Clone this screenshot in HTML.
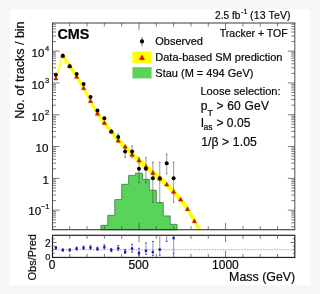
<!DOCTYPE html><html><head><meta charset="utf-8"><style>html,body{margin:0;padding:0;background:#f6f6f6;}svg{display:block;will-change:transform;}text{stroke:#222;stroke-width:0.22px;}</style></head><body><svg width="320" height="294" viewBox="0 0 320 294"><rect x="0" y="0" width="320" height="294" fill="#f6f6f6"/>
<rect x="9.8" y="9.3" width="300.3" height="275.8" fill="#ffffff"/>
<path d="M100.90,229.70 L100.90,225.30 L107.82,225.30 L107.82,215.30 L114.75,215.30 L114.75,199.60 L121.68,199.60 L121.68,184.30 L128.61,184.30 L128.61,175.40 L135.54,175.40 L135.54,173.20 L142.46,173.20 L142.46,179.30 L149.39,179.30 L149.39,190.20 L156.32,190.20 L156.32,202.60 L163.25,202.60 L163.25,215.90 L170.18,215.90 L170.18,224.30 L177.10,224.30 L177.10,229.70 Z" fill="#5ad35a" stroke="#2a6a3a" stroke-width="0.7"/>
<clipPath id="cm"><rect x="52.50" y="23.00" width="242.30" height="206.70"/></clipPath>
<polygon clip-path="url(#cm)" fill="#ffff00" stroke-linejoin="round" points="55.86,75.20 62.79,52.60 69.72,63.00 76.65,73.60 83.58,84.90 90.50,97.90 97.43,110.40 104.36,119.70 111.29,128.40 118.22,137.50 125.14,143.57 132.07,151.43 139.00,157.19 145.93,163.44 152.86,169.60 159.78,175.36 166.71,181.02 173.64,188.28 180.57,195.94 187.50,205.50 194.42,217.55 201.35,230.01 201.35,236.99 194.42,224.45 187.50,212.30 180.57,202.66 173.64,194.92 166.71,187.58 159.78,181.84 152.86,176.00 145.93,169.76 139.00,163.41 132.07,157.57 125.14,149.63 118.22,143.50 111.29,134.40 104.36,125.70 97.43,116.40 90.50,103.90 83.58,90.90 76.65,79.60 69.72,69.00 62.79,58.60 55.86,81.20"/>
<path d="M55.86,76.07 L58.01,79.94 L53.71,79.94 Z" fill="#d81000" stroke="#902000" stroke-width="0.45"/>
<path d="M62.79,53.47 L64.94,57.34 L60.64,57.34 Z" fill="#d81000" stroke="#902000" stroke-width="0.45"/>
<path d="M69.72,63.87 L71.87,67.74 L67.57,67.74 Z" fill="#d81000" stroke="#902000" stroke-width="0.45"/>
<path d="M76.65,74.47 L78.80,78.34 L74.50,78.34 Z" fill="#d81000" stroke="#902000" stroke-width="0.45"/>
<path d="M83.58,85.77 L85.73,89.64 L81.43,89.64 Z" fill="#d81000" stroke="#902000" stroke-width="0.45"/>
<path d="M90.50,98.77 L92.65,102.64 L88.35,102.64 Z" fill="#d81000" stroke="#902000" stroke-width="0.45"/>
<path d="M97.43,111.27 L99.58,115.14 L95.28,115.14 Z" fill="#d81000" stroke="#902000" stroke-width="0.45"/>
<path d="M104.36,120.57 L106.51,124.44 L102.21,124.44 Z" fill="#d81000" stroke="#902000" stroke-width="0.45"/>
<path d="M111.29,129.27 L113.44,133.14 L109.14,133.14 Z" fill="#d81000" stroke="#902000" stroke-width="0.45"/>
<path d="M118.22,138.37 L120.37,142.24 L116.07,142.24 Z" fill="#d81000" stroke="#902000" stroke-width="0.45"/>
<path d="M125.14,144.47 L127.29,148.34 L122.99,148.34 Z" fill="#d81000" stroke="#902000" stroke-width="0.45"/>
<path d="M132.07,152.37 L134.22,156.24 L129.92,156.24 Z" fill="#d81000" stroke="#902000" stroke-width="0.45"/>
<path d="M139.00,158.17 L141.15,162.04 L136.85,162.04 Z" fill="#d81000" stroke="#902000" stroke-width="0.45"/>
<path d="M145.93,164.47 L148.08,168.34 L143.78,168.34 Z" fill="#d81000" stroke="#902000" stroke-width="0.45"/>
<path d="M152.86,170.67 L155.01,174.54 L150.71,174.54 Z" fill="#d81000" stroke="#902000" stroke-width="0.45"/>
<path d="M159.78,176.47 L161.93,180.34 L157.63,180.34 Z" fill="#d81000" stroke="#902000" stroke-width="0.45"/>
<path d="M166.71,182.17 L168.86,186.04 L164.56,186.04 Z" fill="#d81000" stroke="#902000" stroke-width="0.45"/>
<path d="M173.64,189.47 L175.79,193.34 L171.49,193.34 Z" fill="#d81000" stroke="#902000" stroke-width="0.45"/>
<path d="M180.57,197.17 L182.72,201.04 L178.42,201.04 Z" fill="#d81000" stroke="#902000" stroke-width="0.45"/>
<path d="M187.50,206.77 L189.65,210.64 L185.35,210.64 Z" fill="#d81000" stroke="#902000" stroke-width="0.45"/>
<path d="M194.42,218.87 L196.57,222.74 L192.27,222.74 Z" fill="#d81000" stroke="#902000" stroke-width="0.45"/>
<circle cx="55.86" cy="74.70" r="2.0" fill="#000"/>
<circle cx="62.79" cy="55.80" r="2.0" fill="#000"/>
<circle cx="69.72" cy="66.30" r="2.0" fill="#000"/>
<circle cx="76.65" cy="74.00" r="2.0" fill="#000"/>
<circle cx="83.58" cy="84.10" r="2.0" fill="#000"/>
<circle cx="90.50" cy="97.00" r="2.0" fill="#000"/>
<circle cx="97.43" cy="110.40" r="2.0" fill="#000"/>
<circle cx="104.36" cy="118.20" r="2.0" fill="#000"/>
<circle cx="111.29" cy="131.60" r="2.0" fill="#000"/>
<path d="M118.22,133.60V140.44M117.32,134.00h1.8M117.32,140.04h1.8" stroke="#444" stroke-width="0.55" fill="none"/>
<circle cx="118.22" cy="136.98" r="2.0" fill="#000"/>
<path d="M125.14,145.53V157.83M124.24,145.93h1.8M124.24,157.43h1.8" stroke="#444" stroke-width="0.55" fill="none"/>
<circle cx="125.14" cy="151.48" r="2.0" fill="#000"/>
<path d="M132.07,145.53V157.83M131.17,145.93h1.8M131.17,157.43h1.8" stroke="#444" stroke-width="0.55" fill="none"/>
<circle cx="132.07" cy="151.48" r="2.0" fill="#000"/>
<path d="M139.00,157.16V183.12M138.10,157.56h1.8M138.10,182.72h1.8" stroke="#444" stroke-width="0.55" fill="none"/>
<circle cx="139.00" cy="168.78" r="2.0" fill="#000"/>
<path d="M145.93,157.16V183.12M145.03,157.56h1.8M145.03,182.72h1.8" stroke="#444" stroke-width="0.55" fill="none"/>
<circle cx="145.93" cy="168.78" r="2.0" fill="#000"/>
<path d="M152.86,161.86V202.60M151.96,162.26h1.8M151.96,202.20h1.8" stroke="#444" stroke-width="0.55" fill="none"/>
<circle cx="152.86" cy="178.35" r="2.0" fill="#000"/>
<path d="M159.78,161.86V202.60M158.88,162.26h1.8M158.88,202.20h1.8" stroke="#444" stroke-width="0.55" fill="none"/>
<circle cx="159.78" cy="178.35" r="2.0" fill="#000"/>
<path d="M166.71,153.79V174.03M165.81,154.19h1.8M165.81,173.63h1.8" stroke="#444" stroke-width="0.55" fill="none"/>
<circle cx="166.71" cy="163.18" r="2.0" fill="#000"/>
<path d="M173.64,161.86V202.60M172.74,162.26h1.8M172.74,202.20h1.8" stroke="#444" stroke-width="0.55" fill="none"/>
<circle cx="173.64" cy="178.35" r="2.0" fill="#000"/>
<path d="M52.5,23.0V229.7M294.8,23.0V229.7" fill="none" stroke="#4a4a4a" stroke-width="1.0"/>
<path d="M52.0,23.0H295.3" fill="none" stroke="#3a3a3a" stroke-width="1.0"/>
<path d="M52.0,229.7H295.3" fill="none" stroke="#222" stroke-width="1.1"/>
<rect x="52.5" y="235.3" width="242.30" height="22.15" fill="none" stroke="#222" stroke-width="1.2"/>
<path d="M52.50,226.78h3.5M294.80,226.78h-3.5M52.50,222.80h3.5M294.80,222.80h-3.5M52.50,219.72h3.5M294.80,219.72h-3.5M52.50,217.20h3.5M294.80,217.20h-3.5M52.50,215.08h3.5M294.80,215.08h-3.5M52.50,213.23h3.5M294.80,213.23h-3.5M52.50,211.61h3.5M294.80,211.61h-3.5M52.50,210.15h7.0M294.80,210.15h-7.0M52.50,200.58h3.5M294.80,200.58h-3.5M52.50,194.98h3.5M294.80,194.98h-3.5M52.50,191.00h3.5M294.80,191.00h-3.5M52.50,187.92h3.5M294.80,187.92h-3.5M52.50,185.40h3.5M294.80,185.40h-3.5M52.50,183.28h3.5M294.80,183.28h-3.5M52.50,181.43h3.5M294.80,181.43h-3.5M52.50,179.81h3.5M294.80,179.81h-3.5M52.50,178.35h7.0M294.80,178.35h-7.0M52.50,168.78h3.5M294.80,168.78h-3.5M52.50,163.18h3.5M294.80,163.18h-3.5M52.50,159.20h3.5M294.80,159.20h-3.5M52.50,156.12h3.5M294.80,156.12h-3.5M52.50,153.60h3.5M294.80,153.60h-3.5M52.50,151.48h3.5M294.80,151.48h-3.5M52.50,149.63h3.5M294.80,149.63h-3.5M52.50,148.01h3.5M294.80,148.01h-3.5M52.50,146.55h7.0M294.80,146.55h-7.0M52.50,136.98h3.5M294.80,136.98h-3.5M52.50,131.38h3.5M294.80,131.38h-3.5M52.50,127.40h3.5M294.80,127.40h-3.5M52.50,124.32h3.5M294.80,124.32h-3.5M52.50,121.80h3.5M294.80,121.80h-3.5M52.50,119.68h3.5M294.80,119.68h-3.5M52.50,117.83h3.5M294.80,117.83h-3.5M52.50,116.21h3.5M294.80,116.21h-3.5M52.50,114.75h7.0M294.80,114.75h-7.0M52.50,105.18h3.5M294.80,105.18h-3.5M52.50,99.58h3.5M294.80,99.58h-3.5M52.50,95.60h3.5M294.80,95.60h-3.5M52.50,92.52h3.5M294.80,92.52h-3.5M52.50,90.00h3.5M294.80,90.00h-3.5M52.50,87.88h3.5M294.80,87.88h-3.5M52.50,86.03h3.5M294.80,86.03h-3.5M52.50,84.41h3.5M294.80,84.41h-3.5M52.50,82.95h7.0M294.80,82.95h-7.0M52.50,73.38h3.5M294.80,73.38h-3.5M52.50,67.78h3.5M294.80,67.78h-3.5M52.50,63.80h3.5M294.80,63.80h-3.5M52.50,60.72h3.5M294.80,60.72h-3.5M52.50,58.20h3.5M294.80,58.20h-3.5M52.50,56.08h3.5M294.80,56.08h-3.5M52.50,54.23h3.5M294.80,54.23h-3.5M52.50,52.61h3.5M294.80,52.61h-3.5M52.50,51.15h7.0M294.80,51.15h-7.0M52.50,41.58h3.5M294.80,41.58h-3.5M52.50,35.98h3.5M294.80,35.98h-3.5M52.50,32.00h3.5M294.80,32.00h-3.5M52.50,28.92h3.5M294.80,28.92h-3.5M52.50,26.40h3.5M294.80,26.40h-3.5M52.50,24.28h3.5M294.80,24.28h-3.5M69.72,229.70v-3.5M69.72,23.00v3.5M69.72,257.45v-3.5M69.72,235.30v3.5M87.04,229.70v-3.5M87.04,23.00v3.5M87.04,257.45v-3.5M87.04,235.30v3.5M104.36,229.70v-3.5M104.36,23.00v3.5M104.36,257.45v-3.5M104.36,235.30v3.5M121.68,229.70v-3.5M121.68,23.00v3.5M121.68,257.45v-3.5M121.68,235.30v3.5M139.00,229.70v-6.8M139.00,23.00v6.8M139.00,257.45v-6.8M139.00,235.30v6.8M156.32,229.70v-3.5M156.32,23.00v3.5M156.32,257.45v-3.5M156.32,235.30v3.5M173.64,229.70v-3.5M173.64,23.00v3.5M173.64,257.45v-3.5M173.64,235.30v3.5M190.96,229.70v-3.5M190.96,23.00v3.5M190.96,257.45v-3.5M190.96,235.30v3.5M208.28,229.70v-3.5M208.28,23.00v3.5M208.28,257.45v-3.5M208.28,235.30v3.5M225.60,229.70v-6.8M225.60,23.00v6.8M225.60,257.45v-6.8M225.60,235.30v6.8M242.92,229.70v-3.5M242.92,23.00v3.5M242.92,257.45v-3.5M242.92,235.30v3.5M260.24,229.70v-3.5M260.24,23.00v3.5M260.24,257.45v-3.5M260.24,235.30v3.5M277.56,229.70v-3.5M277.56,23.00v3.5M277.56,257.45v-3.5M277.56,235.30v3.5M52.50,253.34h2.1M294.80,253.34h-2.1M52.50,249.73h2.1M294.80,249.73h-2.1M52.50,246.12h2.1M294.80,246.12h-2.1M52.50,242.51h4.2M294.80,242.51h-4.2M52.50,238.90h2.1M294.80,238.90h-2.1" stroke="#444" stroke-width="0.7" fill="none"/>
<line x1="52.5" y1="249.73" x2="294.8" y2="249.73" stroke="#777" stroke-width="0.6" stroke-dasharray="1.6,1.1"/>
<path d="M55.86,245.90V249.60" stroke="#7070d8" stroke-width="0.8" fill="none"/>
<path d="M54.96,246.35h1.8M54.96,249.15h1.8" stroke="#3c3ca8" stroke-width="0.9" fill="none"/>
<ellipse cx="55.86" cy="247.75" rx="1.3" ry="1.5" fill="#1a1ab8"/>
<path d="M62.79,248.50V251.50" stroke="#7070d8" stroke-width="0.8" fill="none"/>
<path d="M61.89,248.95h1.8M61.89,251.05h1.8" stroke="#3c3ca8" stroke-width="0.9" fill="none"/>
<ellipse cx="62.79" cy="250.00" rx="1.3" ry="1.5" fill="#1a1ab8"/>
<path d="M69.72,248.40V251.40" stroke="#7070d8" stroke-width="0.8" fill="none"/>
<path d="M68.82,248.85h1.8M68.82,250.95h1.8" stroke="#3c3ca8" stroke-width="0.9" fill="none"/>
<ellipse cx="69.72" cy="249.90" rx="1.3" ry="1.5" fill="#1a1ab8"/>
<path d="M76.65,246.80V250.40" stroke="#7070d8" stroke-width="0.8" fill="none"/>
<path d="M75.75,247.25h1.8M75.75,249.95h1.8" stroke="#3c3ca8" stroke-width="0.9" fill="none"/>
<ellipse cx="76.65" cy="248.60" rx="1.3" ry="1.5" fill="#1a1ab8"/>
<path d="M83.58,245.80V249.70" stroke="#7070d8" stroke-width="0.8" fill="none"/>
<path d="M82.68,246.25h1.8M82.68,249.25h1.8" stroke="#3c3ca8" stroke-width="0.9" fill="none"/>
<ellipse cx="83.58" cy="247.75" rx="1.3" ry="1.5" fill="#1a1ab8"/>
<path d="M90.50,245.30V249.60" stroke="#7070d8" stroke-width="0.8" fill="none"/>
<path d="M89.60,245.75h1.8M89.60,249.15h1.8" stroke="#3c3ca8" stroke-width="0.9" fill="none"/>
<ellipse cx="90.50" cy="247.50" rx="1.3" ry="1.5" fill="#1a1ab8"/>
<path d="M97.43,246.80V250.70" stroke="#7070d8" stroke-width="0.8" fill="none"/>
<path d="M96.53,247.25h1.8M96.53,250.25h1.8" stroke="#3c3ca8" stroke-width="0.9" fill="none"/>
<ellipse cx="97.43" cy="248.75" rx="1.3" ry="1.5" fill="#1a1ab8"/>
<path d="M104.36,244.30V249.30" stroke="#7070d8" stroke-width="0.8" fill="none"/>
<path d="M103.46,244.75h1.8M103.46,248.85h1.8" stroke="#3c3ca8" stroke-width="0.9" fill="none"/>
<ellipse cx="104.36" cy="246.90" rx="1.3" ry="1.5" fill="#1a1ab8"/>
<path d="M111.29,248.00V252.00" stroke="#7070d8" stroke-width="0.8" fill="none"/>
<path d="M110.39,248.45h1.8M110.39,251.55h1.8" stroke="#3c3ca8" stroke-width="0.9" fill="none"/>
<ellipse cx="111.29" cy="250.00" rx="1.3" ry="1.5" fill="#1a1ab8"/>
<path d="M118.22,245.10V250.75" stroke="#7070d8" stroke-width="0.8" fill="none"/>
<path d="M117.32,245.55h1.8M117.32,250.30h1.8" stroke="#3c3ca8" stroke-width="0.9" fill="none"/>
<ellipse cx="118.22" cy="248.30" rx="1.3" ry="1.5" fill="#1a1ab8"/>
<path d="M125.14,248.90V253.90" stroke="#7070d8" stroke-width="0.8" fill="none"/>
<path d="M124.24,249.35h1.8M124.24,253.45h1.8" stroke="#3c3ca8" stroke-width="0.9" fill="none"/>
<ellipse cx="125.14" cy="251.75" rx="1.3" ry="1.5" fill="#1a1ab8"/>
<path d="M132.07,243.90V252.60" stroke="#7070d8" stroke-width="0.8" fill="none"/>
<path d="M131.17,244.35h1.8M131.17,252.15h1.8" stroke="#3c3ca8" stroke-width="0.9" fill="none"/>
<ellipse cx="132.07" cy="248.50" rx="1.3" ry="1.5" fill="#1a1ab8"/>
<path d="M139.00,247.89V255.57" stroke="#7070d8" stroke-width="0.8" fill="none"/>
<path d="M138.10,248.34h1.8M138.10,255.12h1.8" stroke="#3c3ca8" stroke-width="0.9" fill="none"/>
<ellipse cx="139.00" cy="253.04" rx="1.3" ry="1.5" fill="#1a1ab8"/>
<path d="M145.93,242.65V254.77" stroke="#7070d8" stroke-width="0.8" fill="none"/>
<path d="M145.03,243.10h1.8M145.03,254.32h1.8" stroke="#3c3ca8" stroke-width="0.9" fill="none"/>
<ellipse cx="145.93" cy="250.78" rx="1.3" ry="1.5" fill="#1a1ab8"/>
<path d="M152.86,241.01V256.12" stroke="#7070d8" stroke-width="0.8" fill="none"/>
<path d="M151.96,241.46h1.8M151.96,255.67h1.8" stroke="#3c3ca8" stroke-width="0.9" fill="none"/>
<ellipse cx="152.86" cy="252.12" rx="1.3" ry="1.5" fill="#1a1ab8"/>
<path d="M159.78,235.30V255.68" stroke="#7070d8" stroke-width="0.8" fill="none"/>
<path d="M158.88,255.23h1.8" stroke="#3c3ca8" stroke-width="0.9" fill="none"/>
<ellipse cx="159.78" cy="249.60" rx="1.3" ry="1.5" fill="#1a1ab8"/>
<path d="M166.71,235.30V241.76" stroke="#7070d8" stroke-width="0.8" fill="none"/>
<path d="M165.81,241.31h1.8" stroke="#3c3ca8" stroke-width="0.9" fill="none"/>
<path d="M173.64,235.30V253.69" stroke="#7070d8" stroke-width="0.8" fill="none"/>
<path d="M172.74,253.24h1.8" stroke="#3c3ca8" stroke-width="0.9" fill="none"/>
<ellipse cx="173.64" cy="238.10" rx="1.3" ry="1.5" fill="#1a1ab8"/>
<line x1="142" y1="36.9" x2="142" y2="46.4" stroke="#444" stroke-width="0.7"/>
<circle cx="142" cy="41.4" r="2.1" fill="#000"/>
<rect x="132.4" y="51.6" width="19.2" height="11.3" fill="#ffff00"/>
<path d="M142.00,54.83 L144.70,59.69 L139.30,59.69 Z" fill="#e80000" stroke="#b00000" stroke-width="0.3"/>
<rect x="132.4" y="67.2" width="19.2" height="11.2" fill="#5ad35a"/>
<text x="155.3" y="45.1" font-size="11" text-anchor="start" font-weight="normal" font-family="Liberation Sans, sans-serif" >Observed</text>
<text x="155.3" y="61.2" font-size="11" text-anchor="start" font-weight="normal" font-family="Liberation Sans, sans-serif" >Data-based SM prediction</text>
<text x="155.3" y="77.0" font-size="11" text-anchor="start" font-weight="normal" font-family="Liberation Sans, sans-serif" >Stau (M = 494 GeV)</text>
<text x="57.4" y="38.9" font-size="14.4" text-anchor="start" font-weight="bold" font-family="Liberation Sans, sans-serif" >CMS</text>
<text x="215.1" y="19.4" font-size="10.1" text-anchor="start" font-weight="normal" font-family="Liberation Sans, sans-serif" >2.5 fb</text>
<text x="241.0" y="13.9" font-size="7.2" text-anchor="start" font-weight="normal" font-family="Liberation Sans, sans-serif" >-1</text>
<text x="250.0" y="19.4" font-size="10.5" text-anchor="start" font-weight="normal" font-family="Liberation Sans, sans-serif" textLength="40.6" lengthAdjust="spacing">(13 TeV)</text>
<text x="287.6" y="36.9" font-size="10.5" text-anchor="end" font-weight="normal" font-family="Liberation Sans, sans-serif" >Tracker + TOF</text>
<text x="200.4" y="95.4" font-size="11.1" text-anchor="start" font-weight="normal" font-family="Liberation Sans, sans-serif" >Loose selection:</text>
<text x="200.8" y="109.8" font-size="12" text-anchor="start" font-weight="normal" font-family="Liberation Sans, sans-serif" >p</text>
<text x="207.4" y="116.3" font-size="8.8" text-anchor="start" font-weight="normal" font-family="Liberation Sans, sans-serif" >T</text>
<text x="216.4" y="109.6" font-size="12.0" text-anchor="start" font-weight="normal" font-family="Liberation Sans, sans-serif" textLength="52.6" lengthAdjust="spacing">&gt; 60 GeV</text>
<text x="200.8" y="127.3" font-size="12" text-anchor="start" font-weight="normal" font-family="Liberation Sans, sans-serif" >I</text>
<text x="203.6" y="130.3" font-size="8.5" text-anchor="start" font-weight="normal" font-family="Liberation Sans, sans-serif" >as</text>
<text x="216.4" y="127.4" font-size="12.0" text-anchor="start" font-weight="normal" font-family="Liberation Sans, sans-serif" textLength="34.0" lengthAdjust="spacing">&gt; 0.05</text>
<text x="201.2" y="145.9" font-size="12.2" text-anchor="start" font-weight="normal" font-family="Liberation Sans, sans-serif" textLength="55.6" lengthAdjust="spacing">1/β &gt; 1.05</text>
<text x="295.2" y="280.6" font-size="12.4" text-anchor="end" font-weight="normal" font-family="Liberation Sans, sans-serif" >Mass (GeV)</text>
<text x="52.2" y="268.8" font-size="12" text-anchor="middle" font-weight="normal" font-family="Liberation Sans, sans-serif" >0</text>
<text x="138.6" y="268.8" font-size="12" text-anchor="middle" font-weight="normal" font-family="Liberation Sans, sans-serif" >500</text>
<text x="225.4" y="268.8" font-size="12" text-anchor="middle" font-weight="normal" font-family="Liberation Sans, sans-serif" >1000</text>
<text x="31.5" y="56.7" font-size="11.5" text-anchor="start" font-weight="normal" font-family="Liberation Sans, sans-serif" >10</text>
<text x="45.0" y="51.300000000000004" font-size="7.6" text-anchor="start" font-weight="normal" font-family="Liberation Sans, sans-serif" >4</text>
<text x="31.5" y="88.7" font-size="11.5" text-anchor="start" font-weight="normal" font-family="Liberation Sans, sans-serif" >10</text>
<text x="45.0" y="83.3" font-size="7.6" text-anchor="start" font-weight="normal" font-family="Liberation Sans, sans-serif" >3</text>
<text x="31.5" y="120.7" font-size="11.5" text-anchor="start" font-weight="normal" font-family="Liberation Sans, sans-serif" >10</text>
<text x="45.0" y="115.3" font-size="7.6" text-anchor="start" font-weight="normal" font-family="Liberation Sans, sans-serif" >2</text>
<text x="35.6" y="151.7" font-size="11.6" text-anchor="start" font-weight="normal" font-family="Liberation Sans, sans-serif" >10</text>
<text x="42.6" y="183.7" font-size="11.6" text-anchor="start" font-weight="normal" font-family="Liberation Sans, sans-serif" >1</text>
<text x="28.2" y="215.3" font-size="11.6" text-anchor="start" font-weight="normal" font-family="Liberation Sans, sans-serif" >10</text>
<text x="40.8" y="209.3" font-size="7.6" text-anchor="start" font-weight="normal" font-family="Liberation Sans, sans-serif" >−1</text>
<text x="50.7" y="246.7" font-size="10.2" text-anchor="end" font-weight="normal" font-family="Liberation Sans, sans-serif" >2</text>
<text x="50.3" y="259.8" font-size="9.2" text-anchor="end" font-weight="normal" font-family="Liberation Sans, sans-serif" >0</text>
<text transform="translate(23.9,118.7) rotate(-90)" font-size="12.5" font-family="Liberation Sans, sans-serif">No. of tracks / bin</text>
<text transform="translate(35.6,280.5) rotate(-90)" font-size="11" font-family="Liberation Sans, sans-serif">Obs/Pred</text></svg></body></html>
